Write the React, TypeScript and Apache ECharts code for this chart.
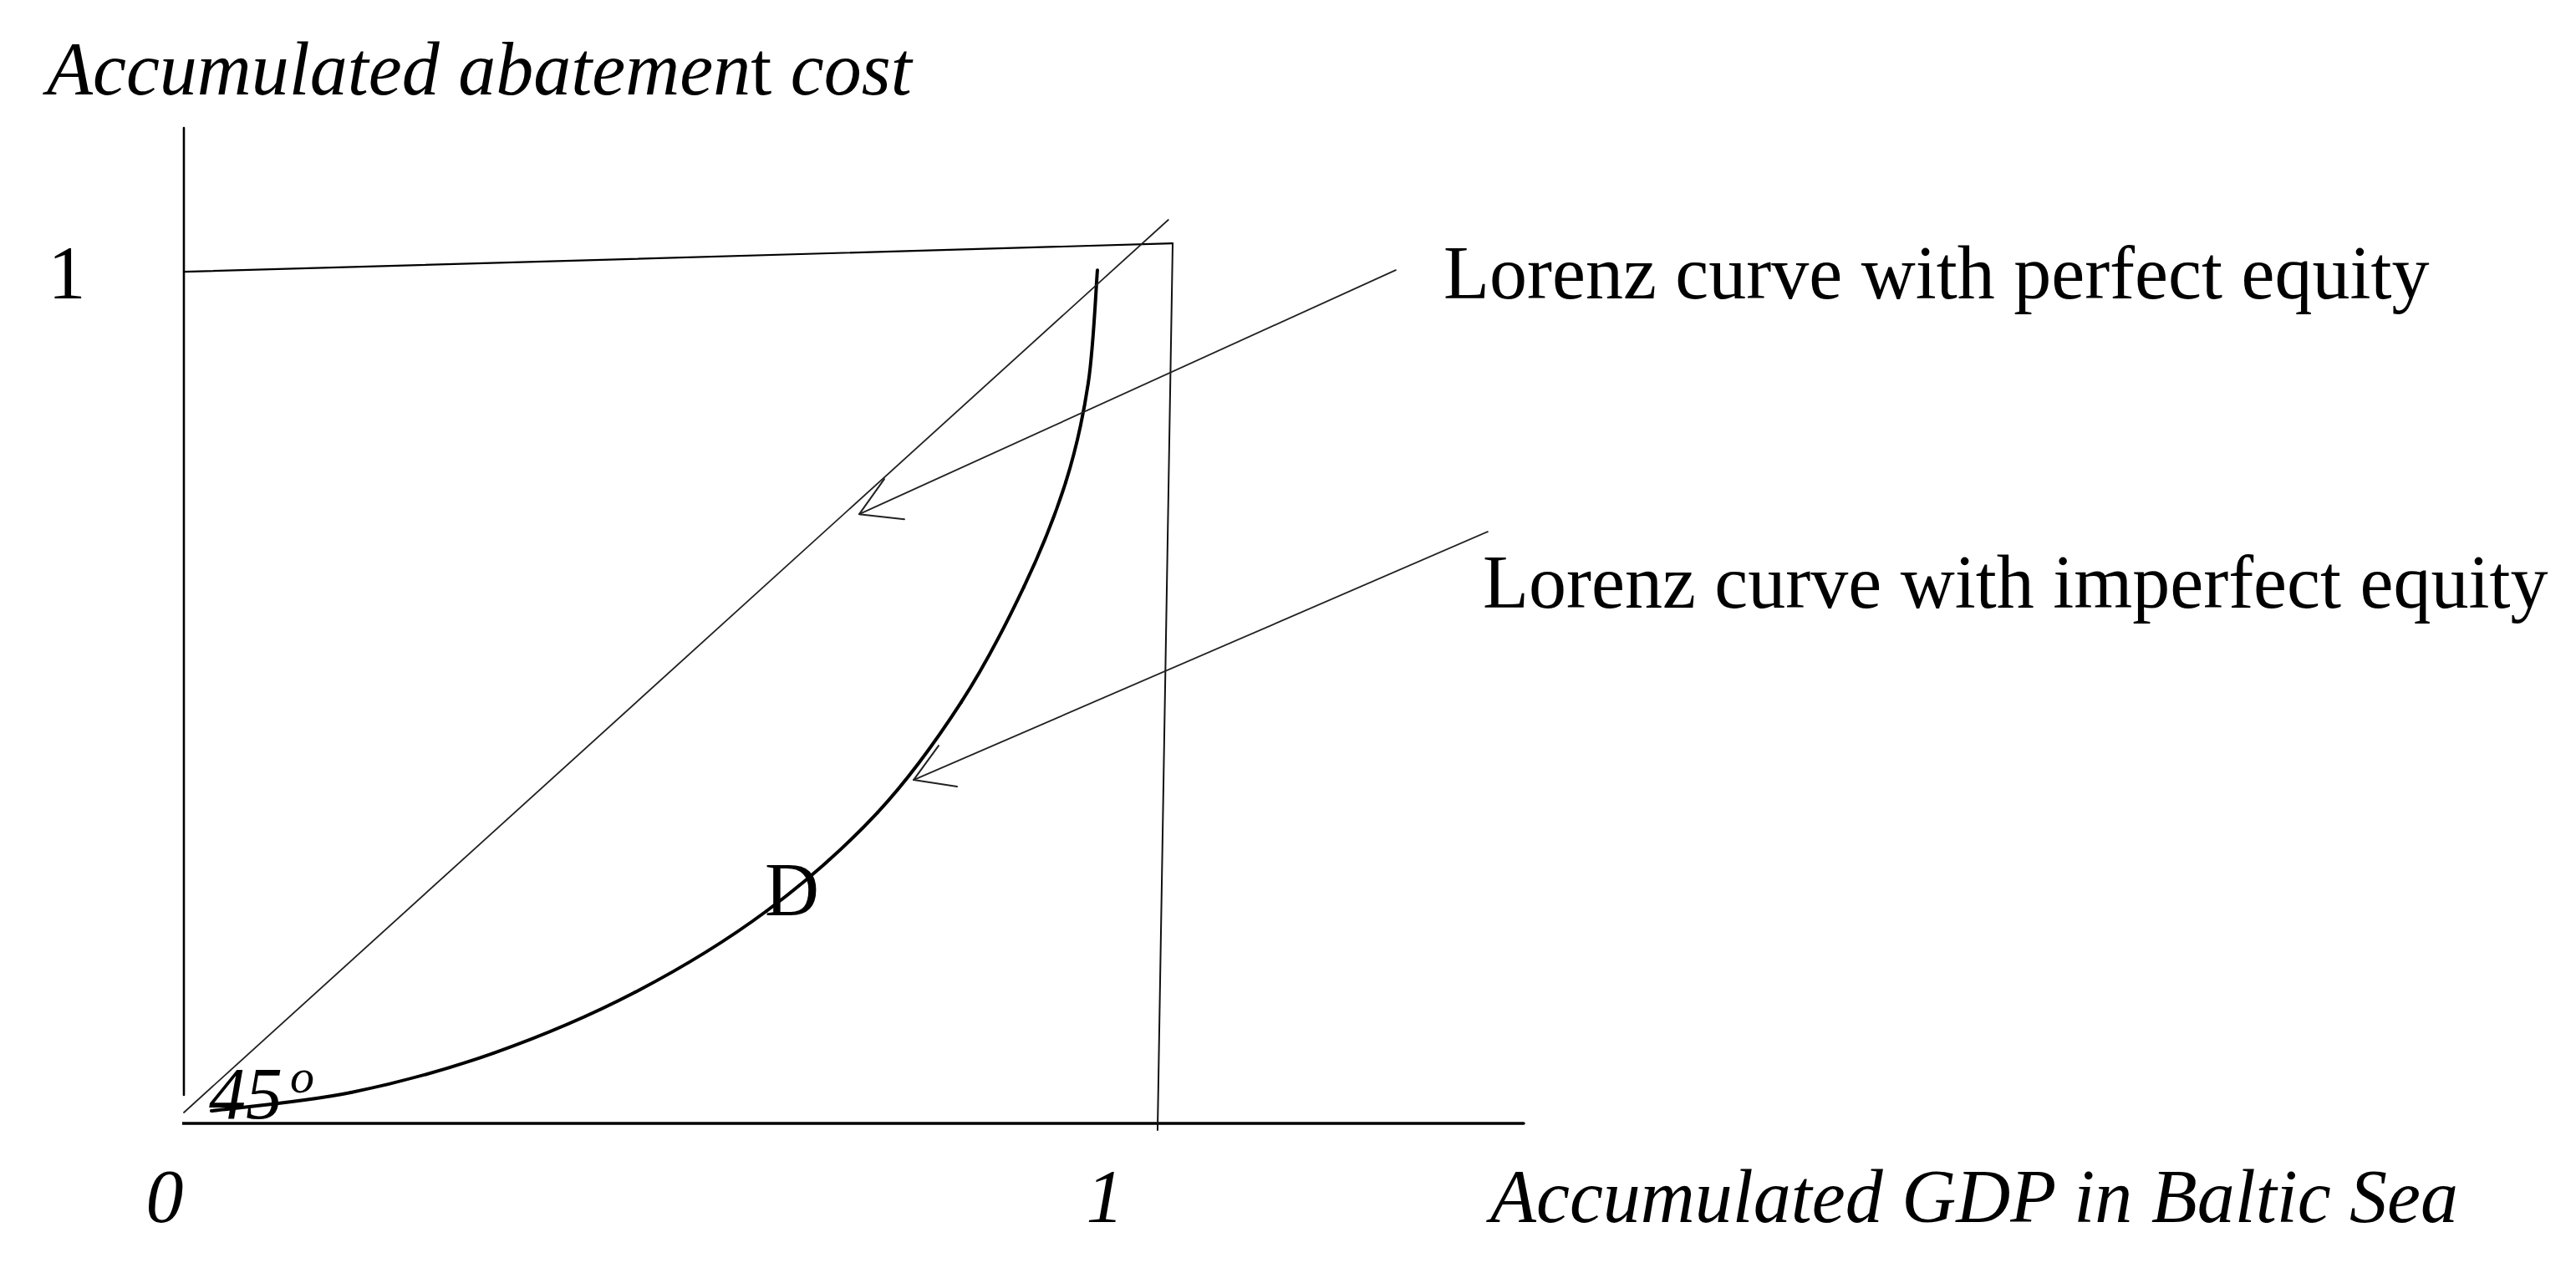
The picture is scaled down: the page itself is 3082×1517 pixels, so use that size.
import React, { useEffect, useRef } from "react";
import * as echarts from "echarts";

// Imperfect-equity Lorenz curve (x = accumulated GDP share, y = accumulated abatement cost share)
const curveGDP = [0.0283, 0.1717, 0.3176, 0.4635, 0.5983, 0.7124, 0.7983, 0.8627, 0.9056, 0.9288, 0.9382];
const curveCost = [0.0147, 0.0363, 0.0824, 0.1541, 0.2493, 0.3651, 0.4946, 0.63, 0.7527, 0.8695, 1.002];

// 45-degree line (perfect equity)
const equityGDP = [0, 1.011];
const equityCost = [0.0128, 1.061];

// Frame lines
const yAxisGDP = [0, 0];
const yAxisCost = [0.0334, 1.169];
const xAxisGDP = [-0.0043, 1.376];
const xAxisCost = [0, 0];
const topGDP = [0, 1.0155];
const topCost = [1.0, 1.0334];
const rightGDP = [1.0155, 1.0];
const rightCost = [1.0334, -0.0079];

// Arrows: shaft [start, tip], head [upper barb, tip, lower barb]
const arrow1ShaftGDP = [1.2446, 0.6936];
const arrow1ShaftCost = [1.002, 0.7154];
const arrow1HeadGDP = [0.7193, 0.6936, 0.7399];
const arrow1HeadCost = [0.7566, 0.7154, 0.7095];
const arrow2ShaftGDP = [1.339, 0.7494];
const arrow2ShaftCost = [0.6948, 0.4033];
const arrow2HeadGDP = [0.7751, 0.7494, 0.794];
const arrow2HeadCost = [0.4436, 0.4033, 0.3955];

// Texts
const yTitleParts = ["Accumulated abatemen", "t", " cost"];
const xTitle = "Accumulated GDP in Baltic Sea";
const xTickLabels = ["0", "1"];
const yTickLabels = ["1"];
const annotationPerfect = "Lorenz curve with perfect equity";
const annotationImperfect = "Lorenz curve with imperfect equity";
const areaLabel = "D";
const angleLabel = "45";
const angleSup = "o";

const zip = (xs: number[], ys: number[]) => xs.map((x, i) => [x, ys[i]]);

const SERIF = "'Liberation Serif', 'Times New Roman', serif";
const FS = 90;
const mid = (baseline: number, fs: number) => baseline - 0.34 * fs;

export default function App() {
  const ref = useRef<HTMLDivElement>(null);
  useEffect(() => {
    if (!ref.current) return;
    const chart = echarts.init(ref.current, null, { renderer: "svg" });

    const lineSeries = (name: string, xs: number[], ys: number[], width: number, color = "#000") => ({
      name,
      type: "line",
      data: zip(xs, ys),
      symbol: "none",
      clip: false,
      silent: true,
      lineStyle: { color, width, cap: "round", join: "round" },
    });

    // Smooth curve through the read points (Catmull-Rom segments drawn as cubic Béziers)
    const curveSeries = {
      name: "imperfect equity",
      type: "custom",
      silent: true,
      clip: false,
      data: zip(curveGDP, curveCost),
      encode: { x: 0, y: 1 },
      renderItem: (params: any, api: any) => {
        const n = curveGDP.length;
        const i = params.dataIndex;
        if (i >= n - 1) return { type: "group", children: [] };
        const P = (k: number) => {
          const j = Math.max(0, Math.min(n - 1, k));
          return api.coord([curveGDP[j], curveCost[j]]);
        };
        const p0 = P(i - 1), p1 = P(i), p2 = P(i + 1), p3 = P(i + 2);
        return {
          type: "bezierCurve",
          shape: {
            x1: p1[0],
            y1: p1[1],
            x2: p2[0],
            y2: p2[1],
            cpx1: p1[0] + (p2[0] - p0[0]) / 6,
            cpy1: p1[1] + (p2[1] - p0[1]) / 6,
            cpx2: p2[0] - (p3[0] - p1[0]) / 6,
            cpy2: p2[1] - (p3[1] - p1[1]) / 6,
          },
          style: { stroke: "#000", lineWidth: 4, fill: null, lineCap: "round" },
        };
      },
    };

    const txt = (text: string, x: number, baseline: number, opts: any = {}) => {
      const fs = opts.fontSize ?? FS;
      return {
        type: "text",
        x,
        y: mid(baseline, fs),
        silent: true,
        style: {
          text,
          fill: "#000",
          fontFamily: SERIF,
          fontSize: fs,
          fontStyle: opts.fontStyle ?? "normal",
          align: opts.align ?? "left",
          verticalAlign: "middle",
          rich: opts.rich,
        },
      };
    };

    const option: any = {
      animation: false,
      backgroundColor: "#fff",
      grid: { left: 220, top: 153, width: 1603, height: 1191, containLabel: false },
      xAxis: { type: "value", min: 0, max: 1.376, show: false },
      yAxis: { type: "value", min: 0, max: 1.169, show: false },
      series: [
        lineSeries("y axis", yAxisGDP, yAxisCost, 2.6),
        lineSeries("x axis", xAxisGDP, xAxisCost, 3.5),
        lineSeries("top", topGDP, topCost, 2.2),
        lineSeries("right", rightGDP, rightCost, 2, "#111"),
        lineSeries("perfect equity", equityGDP, equityCost, 1.8, "#222"),
        curveSeries,
        lineSeries("arrow 1", arrow1ShaftGDP, arrow1ShaftCost, 1.8, "#222"),
        lineSeries("arrow 1 head", arrow1HeadGDP, arrow1HeadCost, 2, "#222"),
        lineSeries("arrow 2", arrow2ShaftGDP, arrow2ShaftCost, 1.8, "#222"),
        lineSeries("arrow 2 head", arrow2HeadGDP, arrow2HeadCost, 2, "#222"),
      ],
      graphic: [
        txt(`{i|${yTitleParts[0]}}{n|${yTitleParts[1]}}{i|${yTitleParts[2]}}`, 56, 113, {
          rich: {
            i: { fontFamily: SERIF, fontSize: FS, fontStyle: "italic", fill: "#000" },
            n: { fontFamily: SERIF, fontSize: FS, fontStyle: "normal", fill: "#000" },
          },
        }),
        txt(yTickLabels[0], 80, 357, { align: "center" }),
        txt(xTickLabels[0], 197, 1462, { align: "center", fontStyle: "italic" }),
        txt(xTickLabels[1], 1322, 1462, { align: "center", fontStyle: "italic" }),
        txt(xTitle, 1783, 1462, { fontStyle: "italic" }),
        txt(annotationPerfect, 1727, 357),
        txt(annotationImperfect, 1774, 727),
        txt(areaLabel, 915, 1095),
        txt(angleLabel, 250, 1338, { fontStyle: "italic", fontSize: 88 }),
        txt(angleSup, 347, 1307, { fontStyle: "italic", fontSize: 58 }),
      ],
    };
    chart.setOption(option);
    return () => chart.dispose();
  }, []);

  return (
    <div
      ref={ref}
      style={{ position: "absolute", left: 0, top: 0, width: 3082, height: 1517, background: "#fff" }}
    />
  );
}
